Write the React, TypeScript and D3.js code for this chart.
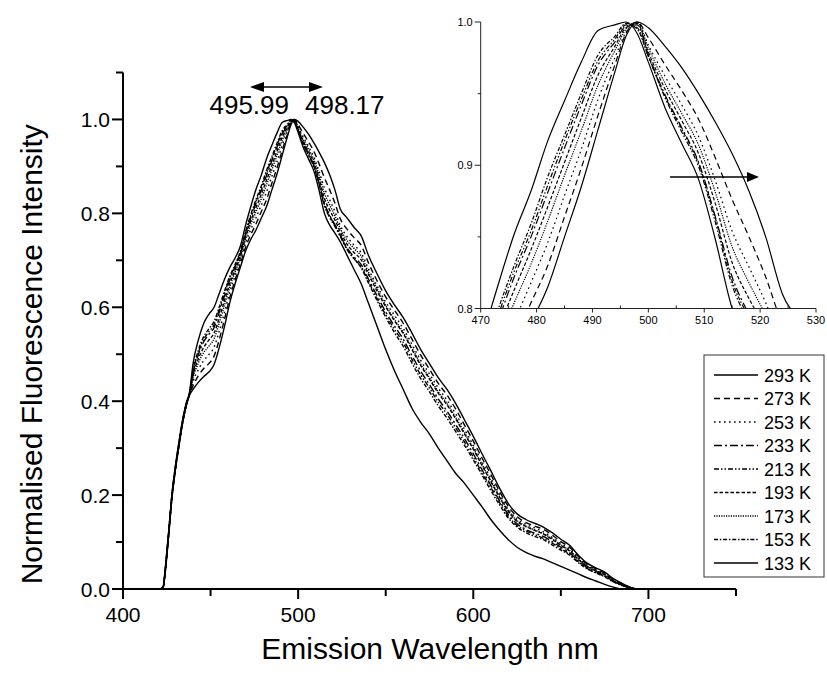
import React from 'react';
import * as d3 from 'd3';

// ---------- data ----------
const wavelengths = [
  400, 421, 423, 424, 426, 428, 430, 432, 434, 436, 438,
  440, 443, 446, 449, 452, 455, 458, 461, 464, 467, 470, 473, 476, 479, 482, 485, 488, 491, 494, 496, 498,
  500, 503, 506, 509, 512, 515, 518, 521, 524, 528, 532, 536, 540, 545, 550, 555, 560, 565, 570, 575, 580,
  585, 590, 595, 600, 605, 610, 615, 620, 625, 630, 635, 640, 645, 650, 655, 660, 665, 670, 675, 680, 685,
  690, 695, 700,
];

const temperatures = ['293 K', '273 K', '253 K', '233 K', '213 K', '193 K', '173 K', '153 K', '133 K'];

const s293 = [
  0, 0, 0.004, 0.03, 0.11, 0.195, 0.255, 0.305, 0.352, 0.388, 0.413,
  0.425, 0.44, 0.452, 0.462, 0.478, 0.515, 0.56, 0.61, 0.65, 0.685, 0.72, 0.745, 0.765, 0.79, 0.815, 0.85, 0.885, 0.925, 0.965, 0.99, 1.0,
  0.996, 0.983, 0.968, 0.95, 0.93, 0.908, 0.882, 0.85, 0.81, 0.79, 0.77, 0.752, 0.712, 0.672, 0.635, 0.605, 0.578, 0.545, 0.51, 0.48, 0.45,
  0.425, 0.395, 0.36, 0.325, 0.288, 0.252, 0.215, 0.182, 0.16, 0.148, 0.14, 0.132, 0.12, 0.106, 0.093, 0.072, 0.055, 0.045, 0.036, 0.022, 0.012,
  0.003, 0, 0,
];
const s273 = [
  0, 0, 0.005, 0.032, 0.112, 0.197, 0.257, 0.307, 0.353, 0.389, 0.414,
  0.433, 0.454, 0.469, 0.48, 0.496, 0.532, 0.575, 0.621, 0.658, 0.692, 0.728, 0.755, 0.778, 0.804, 0.83, 0.864, 0.898, 0.935, 0.97, 0.992, 1.0,
  0.989, 0.97, 0.952, 0.932, 0.905, 0.876, 0.85, 0.822, 0.789, 0.766, 0.748, 0.732, 0.696, 0.657, 0.622, 0.594, 0.566, 0.532, 0.498, 0.468, 0.438,
  0.413, 0.383, 0.349, 0.315, 0.279, 0.244, 0.208, 0.176, 0.154, 0.142, 0.134, 0.127, 0.115, 0.101, 0.089, 0.069, 0.053, 0.043, 0.034, 0.021, 0.011,
  0.003, 0, 0,
];
const s253 = [
  0, 0, 0.004, 0.033, 0.113, 0.198, 0.258, 0.308, 0.354, 0.39, 0.415,
  0.442, 0.467, 0.486, 0.499, 0.515, 0.55, 0.59, 0.633, 0.667, 0.699, 0.737, 0.766, 0.791, 0.818, 0.846, 0.879, 0.911, 0.946, 0.975, 0.993, 1.0,
  0.984, 0.962, 0.942, 0.92, 0.889, 0.854, 0.829, 0.804, 0.775, 0.75, 0.732, 0.716, 0.683, 0.646, 0.611, 0.583, 0.555, 0.521, 0.487, 0.458, 0.428,
  0.402, 0.373, 0.34, 0.306, 0.271, 0.236, 0.202, 0.17, 0.149, 0.138, 0.13, 0.122, 0.11, 0.097, 0.085, 0.066, 0.05, 0.041, 0.032, 0.019, 0.01,
  0.003, 0, 0,
];
const s233 = [
  0, 0, 0.005, 0.036, 0.116, 0.2, 0.26, 0.31, 0.356, 0.391, 0.416,
  0.461, 0.499, 0.526, 0.542, 0.557, 0.59, 0.625, 0.659, 0.686, 0.714, 0.756, 0.79, 0.822, 0.85, 0.881, 0.912, 0.942, 0.97, 0.986, 0.997, 0.998,
  0.977, 0.949, 0.926, 0.902, 0.864, 0.822, 0.796, 0.776, 0.754, 0.726, 0.707, 0.691, 0.661, 0.625, 0.59, 0.56, 0.532, 0.497, 0.464, 0.435, 0.405,
  0.379, 0.35, 0.32, 0.288, 0.254, 0.221, 0.188, 0.159, 0.139, 0.127, 0.119, 0.112, 0.101, 0.089, 0.077, 0.06, 0.046, 0.037, 0.028, 0.017, 0.008,
  0.002, 0, 0,
];
const s213 = [
  0, 0, 0.006, 0.037, 0.117, 0.201, 0.261, 0.311, 0.357, 0.392, 0.417,
  0.464, 0.503, 0.531, 0.548, 0.563, 0.596, 0.63, 0.663, 0.689, 0.717, 0.759, 0.794, 0.826, 0.854, 0.886, 0.917, 0.946, 0.973, 0.988, 0.998, 0.996,
  0.976, 0.947, 0.923, 0.899, 0.86, 0.816, 0.791, 0.772, 0.751, 0.722, 0.703, 0.686, 0.656, 0.619, 0.584, 0.553, 0.525, 0.489, 0.456, 0.428, 0.398,
  0.372, 0.343, 0.313, 0.281, 0.248, 0.216, 0.184, 0.155, 0.135, 0.124, 0.116, 0.108, 0.098, 0.086, 0.074, 0.058, 0.044, 0.035, 0.027, 0.016, 0.008,
  0.002, 0, 0,
];
const s193 = [
  0, 0, 0.005, 0.034, 0.114, 0.199, 0.259, 0.309, 0.355, 0.39, 0.416,
  0.455, 0.49, 0.514, 0.53, 0.545, 0.578, 0.615, 0.651, 0.68, 0.71, 0.75, 0.784, 0.813, 0.841, 0.871, 0.902, 0.933, 0.963, 0.983, 0.996, 0.999,
  0.979, 0.953, 0.931, 0.908, 0.873, 0.832, 0.807, 0.786, 0.761, 0.734, 0.716, 0.701, 0.671, 0.635, 0.601, 0.571, 0.544, 0.51, 0.476, 0.447, 0.417,
  0.392, 0.362, 0.33, 0.298, 0.263, 0.229, 0.195, 0.165, 0.144, 0.133, 0.125, 0.117, 0.106, 0.093, 0.081, 0.063, 0.048, 0.039, 0.03, 0.018, 0.009,
  0.002, 0, 0,
];
const s173 = [
  0, 0, 0.004, 0.034, 0.114, 0.198, 0.258, 0.308, 0.354, 0.39, 0.415,
  0.45, 0.481, 0.503, 0.517, 0.533, 0.567, 0.605, 0.644, 0.675, 0.705, 0.745, 0.777, 0.804, 0.831, 0.861, 0.893, 0.924, 0.956, 0.98, 0.995, 1.0,
  0.982, 0.957, 0.936, 0.914, 0.881, 0.843, 0.818, 0.795, 0.768, 0.742, 0.725, 0.709, 0.676, 0.64, 0.604, 0.574, 0.547, 0.513, 0.479, 0.45, 0.42,
  0.395, 0.365, 0.333, 0.3, 0.265, 0.231, 0.197, 0.167, 0.146, 0.134, 0.126, 0.118, 0.107, 0.094, 0.082, 0.064, 0.049, 0.039, 0.031, 0.018, 0.009,
  0.002, 0, 0,
];
const s153 = [
  0, 0, 0.006, 0.038, 0.118, 0.202, 0.262, 0.312, 0.357, 0.392, 0.417,
  0.466, 0.508, 0.537, 0.554, 0.57, 0.601, 0.635, 0.666, 0.691, 0.719, 0.761, 0.798, 0.83, 0.859, 0.892, 0.921, 0.95, 0.977, 0.99, 0.999, 0.995,
  0.976, 0.948, 0.925, 0.901, 0.863, 0.819, 0.794, 0.775, 0.753, 0.724, 0.703, 0.684, 0.653, 0.615, 0.579, 0.546, 0.517, 0.481, 0.448, 0.42, 0.39,
  0.364, 0.335, 0.306, 0.275, 0.243, 0.21, 0.179, 0.151, 0.132, 0.12, 0.112, 0.105, 0.094, 0.083, 0.072, 0.056, 0.043, 0.034, 0.026, 0.015, 0.007,
  0.002, 0, 0,
];
const s133 = [
  0, 0, 0.006, 0.04, 0.12, 0.205, 0.265, 0.315, 0.36, 0.395, 0.42,
  0.48, 0.53, 0.565, 0.585, 0.6, 0.63, 0.66, 0.685, 0.705, 0.73, 0.775, 0.815, 0.852, 0.882, 0.917, 0.945, 0.972, 0.994, 0.998, 1.0, 0.992,
  0.972, 0.94, 0.915, 0.89, 0.848, 0.8, 0.775, 0.758, 0.74, 0.71, 0.68, 0.65, 0.61, 0.56, 0.51, 0.465, 0.425, 0.385, 0.355, 0.33, 0.3,
  0.273, 0.246, 0.225, 0.2, 0.175, 0.148, 0.125, 0.105, 0.089, 0.078, 0.07, 0.064, 0.056, 0.048, 0.04, 0.032, 0.024, 0.017, 0.01, 0.004, 0,
  0, 0, 0,
];

const seriesValues = [s293, s273, s253, s233, s213, s193, s173, s153, s133];

const mainXTicks = [400, 500, 600, 700];
const mainXMinor = [450, 550, 650, 750];
const mainYTicks = [0, 0.2, 0.4, 0.6, 0.8, 1.0];
const mainYMinor = [0.1, 0.3, 0.5, 0.7, 0.9, 1.1];
const insetXTicks = [470, 480, 490, 500, 510, 520, 530];
const insetXMinor = [475, 485, 495, 505, 515, 525];
const insetYTicks = [0.8, 0.9, 1.0];
const insetYMinor = [0.85, 0.95];
const peakLabels = ['495.99', '498.17'];

// ---------- styles ----------
const dashStyles = ['', '6,4', '1.6,3.4', '8,3,2,3', '5,2,1.5,2,1.5,2', '3.5,2', '1.2,1.2', '4,1.8,1.5,1.8', ''];
const FONT = 'Liberation Sans, Arial, Helvetica, sans-serif';

export default function App() {
  const x = d3.scaleLinear().domain([400, 750]).range([123, 736]);
  const y = d3.scaleLinear().domain([0, 1.1]).range([589, 72.5]);
  const ix = d3.scaleLinear().domain([470, 530]).range([480.7, 816]);
  const iy = d3.scaleLinear().domain([0.8, 1.0]).range([308.5, 22]);

  const rows = seriesValues.map((vals) =>
    wavelengths.slice(0, vals.length).map((w, i) => [w, vals[i]] as [number, number])
  );

  const mainLine = d3
    .line<[number, number]>()
    .x((d) => x(d[0]))
    .y((d) => y(d[1]))
    .curve(d3.curveMonotoneX);
  const insetLine = d3
    .line<[number, number]>()
    .x((d) => ix(d[0]))
    .y((d) => iy(d[1]))
    .curve(d3.curveMonotoneX);

  const legendX = 704;
  const legendY = 355;
  const legendW = 120;
  const legendH = 222;
  const legendRow = 23.5;

  return (
    <svg
      width={827}
      height={677}
      style={{ position: 'absolute', left: 0, top: 0, background: '#fff' }}
      fontFamily={FONT}
    >
      <defs>
        <clipPath id="insetClip">
          <rect x={ix(470)} y={iy(1.0) - 3} width={ix(530) - ix(470)} height={iy(0.8) - iy(1.0) + 3} />
        </clipPath>
        <clipPath id="mainClip">
          <rect x={x(400)} y={y(1.1)} width={x(750) - x(400)} height={y(0) - y(1.1) + 2} />
        </clipPath>
      </defs>
      <rect x={0} y={0} width={827} height={677} fill="#fff" />

      {/* main curves */}
      <g clipPath="url(#mainClip)">
        {rows.map((r, i) => (
          <path
            key={'m' + i}
            d={mainLine(r) || ''}
            fill="none"
            stroke="#000"
            strokeWidth={1.4}
            strokeDasharray={dashStyles[i] || undefined}
          />
        ))}
      </g>

      {/* main axes */}
      <g stroke="#000" strokeWidth={2} fill="none">
        <line x1={x(400)} x2={x(750)} y1={y(0)} y2={y(0)} />
        <line x1={x(400)} x2={x(400)} y1={y(0)} y2={y(1.1)} />
        {mainXTicks.map((t) => (
          <line key={'xt' + t} x1={x(t)} x2={x(t)} y1={y(0)} y2={y(0) + 10} />
        ))}
        {mainXMinor.map((t) => (
          <line key={'xm' + t} x1={x(t)} x2={x(t)} y1={y(0)} y2={y(0) + 7} />
        ))}
        {mainYTicks.map((t) => (
          <line key={'yt' + t} x1={x(400) - 11} x2={x(400)} y1={y(t)} y2={y(t)} />
        ))}
        {mainYMinor.map((t) => (
          <line key={'ym' + t} x1={x(400) - 7} x2={x(400)} y1={y(t)} y2={y(t)} />
        ))}
      </g>
      <g fontSize={21} fill="#000">
        {mainXTicks.map((t) => (
          <text key={'xl' + t} x={x(t)} y={y(0) + 33} textAnchor="middle">
            {t}
          </text>
        ))}
        {mainYTicks.map((t) => (
          <text key={'yl' + t} x={x(400) - 13} y={y(t) + 7.5} textAnchor="end">
            {t.toFixed(1)}
          </text>
        ))}
      </g>
      <text x={430} y={659} fontSize={30} textAnchor="middle" fill="#000">
        Emission Wavelength nm
      </text>
      <text
        transform={`translate(42, ${y(0.5)}) rotate(-90)`}
        fontSize={30}
        textAnchor="middle"
        fill="#000"
      >
        Normalised Fluorescence Intensity
      </text>

      {/* peak annotation */}
      <g>
        <line x1={262} x2={312} y1={87} y2={87} stroke="#000" strokeWidth={1.5} />
        <path d="M250,87 L264,82 L264,92 Z" fill="#000" />
        <path d="M323,87 L309,82 L309,92 Z" fill="#000" />
        <text x={289} y={114} fontSize={26} textAnchor="end" fill="#000">
          {peakLabels[0]}
        </text>
        <text x={305} y={114} fontSize={26} textAnchor="start" fill="#000">
          {peakLabels[1]}
        </text>
      </g>

      {/* inset */}
      <g clipPath="url(#insetClip)">
        {rows.map((r, i) => (
          <path
            key={'i' + i}
            d={insetLine(r) || ''}
            fill="none"
            stroke="#000"
            strokeWidth={1.2}
            strokeDasharray={dashStyles[i] || undefined}
          />
        ))}
      </g>
      <g stroke="#222" strokeWidth={1} fill="none">
        <line x1={ix(470)} x2={ix(530)} y1={iy(0.8)} y2={iy(0.8)} />
        <line x1={ix(470)} x2={ix(470)} y1={iy(0.8)} y2={iy(1.0)} />
        {insetXTicks.map((t) => (
          <line key={'ixt' + t} x1={ix(t)} x2={ix(t)} y1={iy(0.8)} y2={iy(0.8) + 4} />
        ))}
        {insetXMinor.map((t) => (
          <line key={'ixm' + t} x1={ix(t)} x2={ix(t)} y1={iy(0.8)} y2={iy(0.8) - 3} />
        ))}
        {insetYTicks.map((t) => (
          <line key={'iyt' + t} x1={ix(470) - 6} x2={ix(470)} y1={iy(t)} y2={iy(t)} />
        ))}
        {insetYMinor.map((t) => (
          <line key={'iym' + t} x1={ix(470) - 3} x2={ix(470)} y1={iy(t)} y2={iy(t)} />
        ))}
      </g>
      <g fontSize={11} fill="#000">
        {insetXTicks.map((t) => (
          <text key={'ixl' + t} x={ix(t)} y={iy(0.8) + 15} textAnchor="middle">
            {t}
          </text>
        ))}
        {insetYTicks.map((t) => (
          <text key={'iyl' + t} x={ix(470) - 8} y={iy(t) + 4} textAnchor="end">
            {t.toFixed(1)}
          </text>
        ))}
      </g>
      <line x1={670} x2={750} y1={177} y2={177} stroke="#000" strokeWidth={1.5} />
      <path d="M759,177 L747,172 L747,182 Z" fill="#000" />

      {/* legend */}
      <rect x={legendX} y={legendY} width={legendW} height={legendH} fill="#fff" stroke="#333" strokeWidth={1} />
      {temperatures.map((t, i) => {
        const ly = legendY + 20 + i * legendRow;
        return (
          <g key={'lg' + t}>
            <line
              x1={legendX + 10}
              x2={legendX + 54}
              y1={ly}
              y2={ly}
              stroke="#000"
              strokeWidth={1.3}
              strokeDasharray={dashStyles[i] || undefined}
            />
            <text x={legendX + 60} y={ly + 6.5} fontSize={18} fill="#000">
              {t}
            </text>
          </g>
        );
      })}
    </svg>
  );
}
